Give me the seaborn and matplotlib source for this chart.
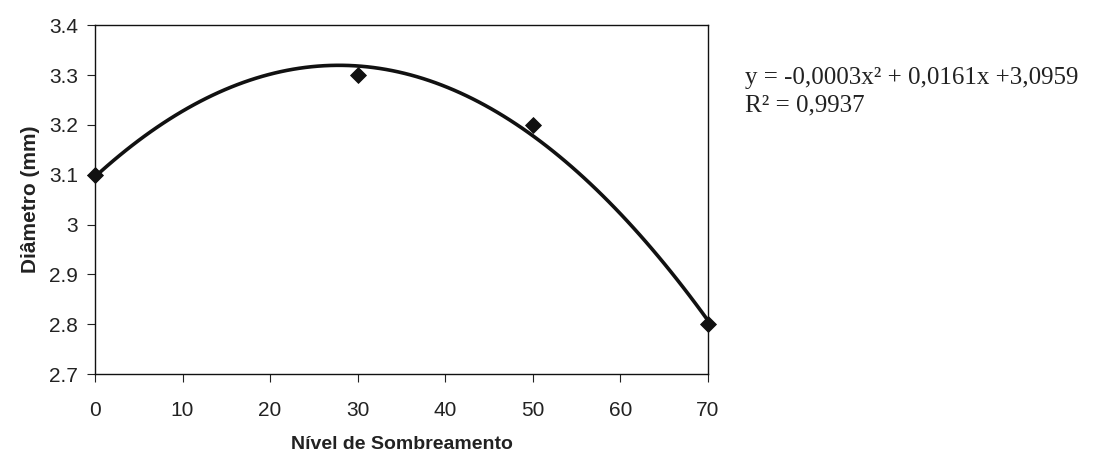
import matplotlib
matplotlib.use("Agg")
import matplotlib.pyplot as plt
import seaborn as sns
import numpy as np
import pandas as pd

sombreamento = [0, 30, 50, 70]
diametro = [3.1, 3.3, 3.2, 2.8]
x_ticks = [0, 10, 20, 30, 40, 50, 60, 70]
y_ticks = [2.7, 2.8, 2.9, 3.0, 3.1, 3.2, 3.3, 3.4]
y_tick_labels = ["2.7", "2.8", "2.9", "3", "3.1", "3.2", "3.3", "3.4"]
equation = "y = -0,0003x² + 0,0161x +3,0959"
r2_text = "R² = 0,9937"

sns.set_theme(style="white")
plt.rcParams['font.family'] = ['Liberation Sans', 'DejaVu Sans']

df = pd.DataFrame({"x": sombreamento, "y": diametro})

fig = plt.figure(figsize=(10.94, 4.66), dpi=100)
ax = fig.add_axes([0.0868, 0.197, 0.5603, 0.749])

sns.regplot(data=df, x="x", y="y", order=2, ci=None, ax=ax,
            scatter=False, truncate=True,
            line_kws=dict(color="#111111", lw=2.6))
sns.scatterplot(data=df, x="x", y="y", ax=ax, marker="D", color="#111111",
                s=65, edgecolor="#111111", zorder=5, clip_on=False)

ax.set_xlim(0, 70)
ax.set_ylim(2.7, 3.4)
ax.set_xticks(x_ticks)
ax.set_yticks(y_ticks)
ax.set_yticklabels(y_tick_labels)
ax.tick_params(axis="both", labelsize=15, colors="#222222", length=6,
               width=0.8, direction="out", bottom=True, left=True)
ax.tick_params(axis="x", pad=13)
ax.tick_params(axis="y", pad=6)
for s in ax.spines.values():
    s.set_color("#111111")
    s.set_linewidth(1.0)

ax.set_xlabel("Nível de Sombreamento", fontsize=14, fontweight="bold",
              color="#222222", labelpad=12)
ax.set_ylabel("Diâmetro (mm)", fontsize=15, fontweight="bold",
              color="#222222", labelpad=7)

fig.text(0.681, 0.833, equation, fontsize=18, family="Liberation Serif",
         color="#222222", va="center")
fig.text(0.681, 0.773, r2_text, fontsize=18, family="Liberation Serif",
         color="#222222", va="center")

fig.savefig("out.png", dpi=100)
